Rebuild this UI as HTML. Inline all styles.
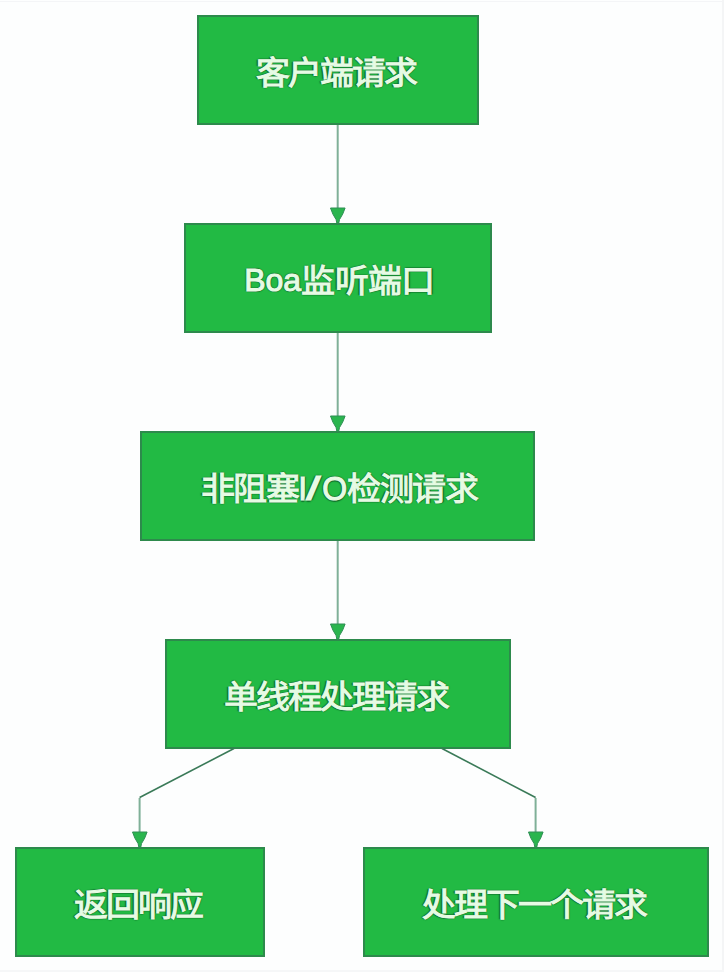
<!DOCTYPE html>
<html lang="zh-CN">
<head>
<meta charset="utf-8">
<style>
html,body{margin:0;padding:0;}
body{width:724px;height:972px;background:#fdfefe;position:relative;overflow:hidden;font-family:"Liberation Sans",sans-serif;}
.b{position:absolute;box-sizing:border-box;height:110px;background:#22ba44;border:2px solid #2d8a4c;color:#e6fbe4;font-size:34px;letter-spacing:-2px;line-height:110px;text-align:center;white-space:nowrap;-webkit-text-stroke:1.1px #e6fbe4;text-shadow:1.3px 0 1px rgba(12,95,38,.8),-1.3px 0 1px rgba(12,95,38,.8),0 1.3px 1px rgba(12,95,38,.8),0 -1.3px 1px rgba(12,95,38,.8);}
.l{display:inline-block;font-size:32px;transform:translateY(-1.5px) scaleY(1.05);letter-spacing:0px;}
.l2{display:inline-block;font-size:32px;transform:translateY(-1px) scaleY(1.12);letter-spacing:0px;margin-left:0px;margin-right:0px;}
.sl{display:inline-block;transform:scaleX(1.6);margin:0 4px 0 2px;}
.t{display:inline-block;transform:scaleY(0.95);transform-origin:50% 60%;margin-right:5px;}
svg{position:absolute;left:0;top:0;}
</style>
</head>
<body>
<div style="position:absolute;left:0;top:1px;width:724px;height:1px;background:#f4f5f7"></div>
<div style="position:absolute;left:722px;top:0;width:2px;height:972px;background:#f4f5f6"></div>
<div style="position:absolute;left:0;top:970px;width:724px;height:2px;background:#f6f7f8"></div>
<div class="b" style="left:197px;top:15px;width:282px;"><span class="t">客户端请求</span></div>
<div class="b" style="left:184px;top:223px;width:308px;letter-spacing:-0.6px;padding-left:8px;"><span class="t"><span class="l">Boa</span>监听端口</span></div>
<div class="b" style="left:140px;top:431px;width:395px;padding-left:8px;letter-spacing:-1.4px;"><span class="t">非阻塞<span class="l2">I<span class="sl">/</span>O</span>检测请求</span></div>
<div class="b" style="left:165px;top:639px;width:346px;"><span class="t">单线程处理请求</span></div>
<div class="b" style="left:15px;top:847px;width:250px;"><span class="t">返回响应</span></div>
<div class="b" style="left:363px;top:847px;width:346px;"><span class="t">处理下一个请求</span></div>
<svg width="724" height="972" viewBox="0 0 724 972">
  <g fill="none" stroke="#7fb098" stroke-width="2">
    <path d="M337.7 125 V208"/>
    <path d="M337.7 333 V416"/>
    <path d="M337.7 541 V624"/>
    <path d="M139.6 798 V832"/>
    <path d="M535.6 798 V832"/>
  </g>
  <g fill="none" stroke="#3a7a58" stroke-width="1.6" stroke-linejoin="round">
    <path d="M234 748.5 L139.6 797.5"/>
    <path d="M442 748.5 L535.6 797.5"/>
  </g>
  <g fill="#2ab54e" stroke="#2f8f55" stroke-width="1">
    <path transform="translate(337.8 223)" d="M-7.3 -15H7.3Q5.3 -8.6 1.7 -3.4L1 0H-1L-1.7 -3.4Q-5.3 -8.6 -7.3 -15Z"/>
    <path transform="translate(337.8 431)" d="M-7.3 -15H7.3Q5.3 -8.6 1.7 -3.4L1 0H-1L-1.7 -3.4Q-5.3 -8.6 -7.3 -15Z"/>
    <path transform="translate(337.8 639)" d="M-7.3 -15H7.3Q5.3 -8.6 1.7 -3.4L1 0H-1L-1.7 -3.4Q-5.3 -8.6 -7.3 -15Z"/>
    <path transform="translate(139.8 847)" d="M-7.3 -15H7.3Q5.3 -8.6 1.7 -3.4L1 0H-1L-1.7 -3.4Q-5.3 -8.6 -7.3 -15Z"/>
    <path transform="translate(535.8 847)" d="M-7.3 -15H7.3Q5.3 -8.6 1.7 -3.4L1 0H-1L-1.7 -3.4Q-5.3 -8.6 -7.3 -15Z"/>
  </g>
</svg>
</body>
</html>
